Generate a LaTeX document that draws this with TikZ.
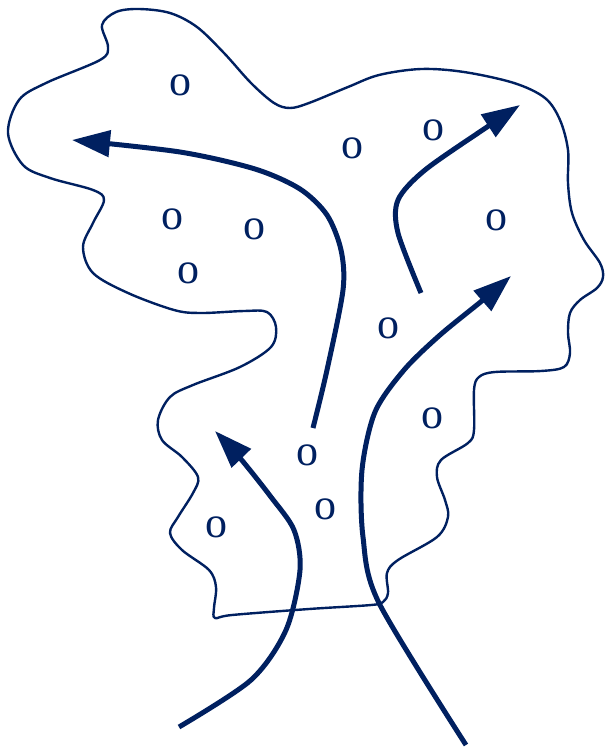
\documentclass[tikz,border=0pt]{standalone}
\usepackage{tikz}
\usetikzlibrary{arrows.meta}
\usepackage{fontspec}
\setmainfont{Liberation Serif}
\definecolor{navy}{RGB}{0,32,96}

\begin{document}
\begin{tikzpicture}[x=1pt,y=-1pt,
	flow/.style={draw=navy, line width=5pt, -{Triangle[length=38pt,width=26pt]}},
	every node/.style={text=navy, inner sep=0pt, font=\fontsize{44}{44}\selectfont}]
	\useasboundingbox (0,0) rectangle (606,747);
	% boundary of the region
	\draw[navy, line width=2.4pt] plot[smooth cycle, tension=0.55] coordinates {
		(102,25) (116,12) (139,9) (170,13) (197,27) (224,53) (251,83) (274,103)
		(290,108) (309,103) (348,87) (379,75) (421,69) (464,72) (514,83) (545,98)
		(560,120) (568,150) (568,183) (572,213) (584,240) (600,263) (603,277)
		(597,288) (580,300) (570,313) (568,333) (570,353) (564,367) (541,371)
		(495,372) (479,377) (474,390) (474,430) (468,443) (441,460) (437,477)
		(445,500) (448,517) (437,537) (398,560) (387,573) (388,593) (383,602)
		(371,605) (309,609) (232,615) (215,618) (214,608) (216,587) (209,570)
		(182,550) (170,533) (178,517) (193,493) (198,477) (182,457) (162,440)
		(158,420) (170,397) (193,385) (240,367) (271,347) (276,327) (267,312)
		(244,311) (201,313) (174,310) (128,293) (93,273) (83,247) (93,223)
		(104,200) (93,190) (50,178) (23,165) (8,133) (19,100) (46,83) (100,60)
		(108,47)};
	% particles
	\node (o1) at (180,85) {o};
	\node (o2) at (352,148) {o};
	\node (o3) at (433,130) {o};
	\node (o4) at (172,219) {o};
	\node (o5) at (254,229) {o};
	\node (o6) at (188,273) {o};
	\node (o7) at (496,220) {o};
	\node (o8) at (388,328) {o};
	\node (o9) at (432,418) {o};
	\node (o10) at (307,455) {o};
	\node (o11) at (325,509) {o};
	\node (o12) at (216,527) {o};
	% flow lines
	\draw[flow] plot[smooth] coordinates {(313,428) (327,370) (343,290) (341,250)
		(327,215) (300,189) (255,169) (180,152) (72,140)};
	\draw[flow] plot[smooth] coordinates {(421,293) (398,233) (398,200) (425,170)
		(487,127) (520,105)};
	\draw[flow] plot[smooth] coordinates {(466,745) (379,603) (363,537) (362,470)
		(375,412) (404,370) (440,335) (483,300) (511,276)};
	\draw[flow] plot[smooth] coordinates {(179,727) (251,680) (286,630) (300,570)
		(294,530) (271,497) (240,458) (215,431)};
\end{tikzpicture}
\end{document}
